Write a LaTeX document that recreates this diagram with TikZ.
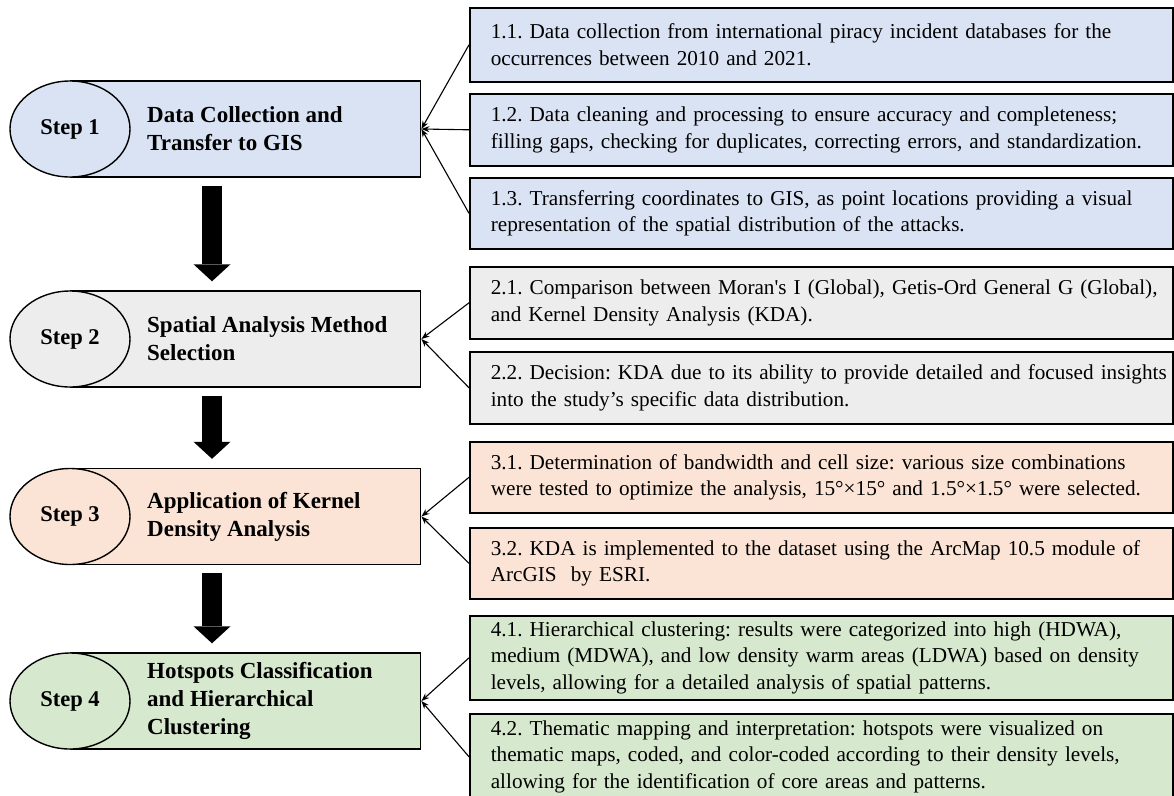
\documentclass[tikz,border=0pt]{standalone}
\usepackage{fontspec}
\setmainfont{Liberation Serif}
\usetikzlibrary{arrows.meta,shapes.geometric}

\definecolor{blueF}{HTML}{DAE3F3}
\definecolor{grayF}{HTML}{EDEDED}
\definecolor{peachF}{HTML}{FBE4D6}
\definecolor{greenF}{HTML}{D6E8CD}

\frenchspacing
\begin{document}
\begin{tikzpicture}[x=1pt,y=-1pt,
  stepbar/.style={draw=black, line width=1.4pt, minimum width=350pt,
    minimum height=96pt, anchor=west, inner sep=0pt},
  stepoval/.style={ellipse, draw=black, line width=1.4pt, minimum width=120pt,
    minimum height=96pt, inner sep=0pt, font=\fontsize{22.5}{26}\selectfont\bfseries},
  steptitle/.style={anchor=west, align=left, inner sep=0pt,
    font=\fontsize{23}{28}\selectfont\bfseries},
  task/.style={draw=black, line width=1.6pt, anchor=north west,
    text width=661pt, inner xsep=21pt, inner ysep=0pt, align=left,
    font=\fontsize{21.2}{26.8}\selectfont},
  feed/.style={line width=1.1pt, -{Stealth[length=8pt,width=6pt]}},
  bigarrow/.style={line width=20pt,
    -{Triangle[length=17pt,width=37pt,line width=0pt]},
    shorten <=8pt, shorten >=9pt}
]
\useasboundingbox (0,0) rectangle (1174,795);

% main steps: a bar with an oval label on its left end
\node[stepbar, fill=blueF]  (s1box) at (70,129)   {};
\node[stepbar, fill=grayF]  (s2box) at (70,339)   {};
\node[stepbar, fill=peachF] (s3box) at (70,516.5) {};
\node[stepbar, fill=greenF] (s4box) at (70,701)   {};

\node[stepoval, fill=blueF]  (s1) at (70,129)   {Step 1};
\node[stepoval, fill=grayF]  (s2) at (70,339)   {Step 2};
\node[stepoval, fill=peachF] (s3) at (70,516.5) {Step 3};
\node[stepoval, fill=greenF] (s4) at (70,701)   {Step 4};

\node[steptitle] (t1) at (147,129)   {Data Collection and\\Transfer to GIS};
\node[steptitle] (t2) at (147,339)   {Spatial Analysis Method\\Selection};
\node[steptitle] (t3) at (147,516.5) {Application of Kernel\\Density Analysis};
\node[steptitle] (t4) at (147,701)   {Hotspots Classification\\and Hierarchical\\Clustering};

% detail boxes
\node[task, fill=blueF, minimum height=74pt] (b11) at (469,7)
  {\mbox{1.1. Data collection from international piracy incident databases for the}\\
   \mbox{occurrences between 2010 and 2021.}};
\node[task, fill=blueF, minimum height=72pt] (b12) at (469,93)
  {\mbox{1.2. Data cleaning and processing to ensure accuracy and completeness;}\\
   \mbox{filling gaps, checking for duplicates, correcting errors, and standardization.}};
\node[task, fill=blueF, minimum height=71pt] (b13) at (469,177)
  {\mbox{1.3. Transferring coordinates to GIS, as point locations providing a visual}\\
   \mbox{representation of the spatial distribution of the attacks.}};

\node[task, fill=grayF, minimum height=72pt] (b21) at (469,266)
  {\mbox{2.1. Comparison between Moran\textquotesingle s I (Global), Getis-Ord General G (Global),}\\
   \mbox{and Kernel Density Analysis (KDA).}};
\node[task, fill=grayF, minimum height=72pt] (b22) at (469,351)
  {\mbox{2.2. Decision: KDA due to its ability to provide detailed and focused insights}\\
   \mbox{into the study’s specific data distribution.}};

\node[task, fill=peachF, minimum height=71pt] (b31) at (469,441)
  {\mbox{3.1. Determination of bandwidth and cell size: various size combinations}\\
   \mbox{were tested to optimize the analysis, 15°×15° and 1.5°×1.5° were selected.}};
\node[task, fill=peachF, minimum height=71pt] (b32) at (469,527)
  {\mbox{3.2. KDA is implemented to the dataset using the ArcMap 10.5 module of}\\
   \mbox{ArcGIS\ \ by ESRI.}};

\node[task, fill=greenF, minimum height=84pt] (b41) at (469,615)
  {\mbox{4.1. Hierarchical clustering: results were categorized into high (HDWA),}\\
   \mbox{medium (MDWA), and low density warm areas (LDWA) based on density}\\
   \mbox{levels, allowing for a detailed analysis of spatial patterns.}};
\node[task, fill=greenF, minimum height=86pt] (b42) at (469,713)
  {\mbox{4.2. Thematic mapping and interpretation: hotspots were visualized on}\\
   \mbox{thematic maps, coded, and color-coded according to their density levels,}\\
   \mbox{allowing for the identification of core areas and patterns.}};

% detail boxes feed into their step
\draw[feed] (b11.west) -- (s1box.east);
\draw[feed] (b12.west) -- (s1box.east);
\draw[feed] (b13.west) -- (s1box.east);
\draw[feed] (b21.west) -- (s2box.east);
\draw[feed] (b22.west) -- (s2box.east);
\draw[feed] (b31.west) -- (s3box.east);
\draw[feed] (b32.west) -- (s3box.east);
\draw[feed] (b41.west) -- (s4box.east);
\draw[feed] (b42.west) -- (s4box.east);

% flow between steps
\draw[bigarrow] ([xshift=142pt]s1box.south west) -- ([xshift=142pt]s2box.north west);
\draw[bigarrow] ([xshift=142pt]s2box.south west) -- ([xshift=142pt]s3box.north west);
\draw[bigarrow] ([xshift=142pt]s3box.south west) -- ([xshift=142pt]s4box.north west);
\end{tikzpicture}
\end{document}
